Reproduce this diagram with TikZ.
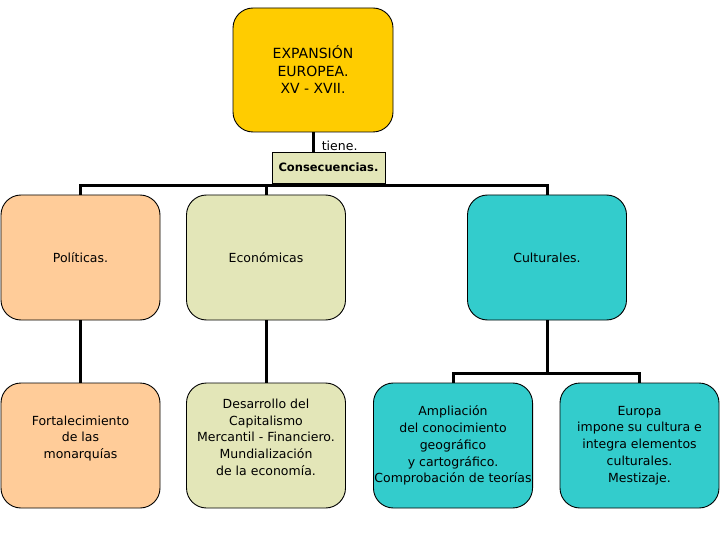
\documentclass[tikz,border=0pt]{standalone}
\usepackage{fontspec}
\setmainfont{DejaVu Sans}
\definecolor{gold}{HTML}{FFCC00}
\definecolor{peach}{HTML}{FFCC99}
\definecolor{pale}{HTML}{E3E6B8}
\definecolor{teal}{HTML}{33CCCC}
\tikzset{
  box/.style={draw=black, line width=0.9pt, rounded corners=20pt, minimum width=159pt, minimum height=125pt, align=center, inner sep=1pt, font=\fontsize{12.5}{16.8}\selectfont},
  conn/.style={line width=3pt},
}
\begin{document}
\begin{tikzpicture}[x=1pt,y=-1pt]
\useasboundingbox (0,0) rectangle (720,540);
\node[box, fill=gold, minimum width=160pt, minimum height=124pt, font=\fontsize{14}{17.5}\selectfont] (top) at (313,70) {EXPANSIÓN\\EUROPEA.\\XV - XVII.};
\node[draw=black, line width=0.9pt, fill=pale, minimum width=113pt, minimum height=31pt, inner sep=1pt, font=\fontsize{11.5}{14}\selectfont\bfseries] (cons) at (328.5,167.5) {Consecuencias.};
\node[box, fill=peach] (pol) at (80.5,257.5) {Políticas.};
\node[box, fill=pale] (eco) at (266,257.5) {Económicas};
\node[box, fill=teal] (cul) at (547,257.5) {Culturales.};
\node[box, fill=peach] (fort) at (80.5,445.5) {Fortalecimiento\\de las\\monarquías\\\mbox{}};
\node[box, fill=pale] (des) at (266,445.5) {Desarrollo del\\Capitalismo\\Mercantil - Financiero.\\Mundialización\\de la economía.\\\mbox{}};
\node[box, fill=teal] (amp) at (453,445.5) {Ampliación\\del conocimiento\\geográfico\\y cartográfico.\\Comprobación de teorías};
\node[box, fill=teal] (eur) at (639.5,445.5) {Europa\\impone su cultura e\\integra elementos\\culturales.\\Mestizaje.};
\coordinate (bus) at (0,186);
\coordinate (bus2) at (0,373);
\draw[conn] (top.south) -- (top.south |- cons.north) node[pos=0.7, right=4pt, font=\fontsize{12.5}{14}\selectfont] (tiene) {tiene.};
\draw[conn] (cons.south -| top.south) -- (top.south |- bus);
\draw[conn] (pol.north) -- (pol.north |- bus) -- (cul.north |- bus) -- (cul.north);
\draw[conn] (eco.north) -- (eco.north |- bus);
\draw[conn] (pol.south) -- (fort.north);
\draw[conn] (eco.south) -- (des.north);
\draw[conn] (cul.south) -- (cul.south |- bus2);
\draw[conn] (amp.north) -- (amp.north |- bus2) -- (eur.north |- bus2) -- (eur.north);
\end{tikzpicture}
\end{document}
